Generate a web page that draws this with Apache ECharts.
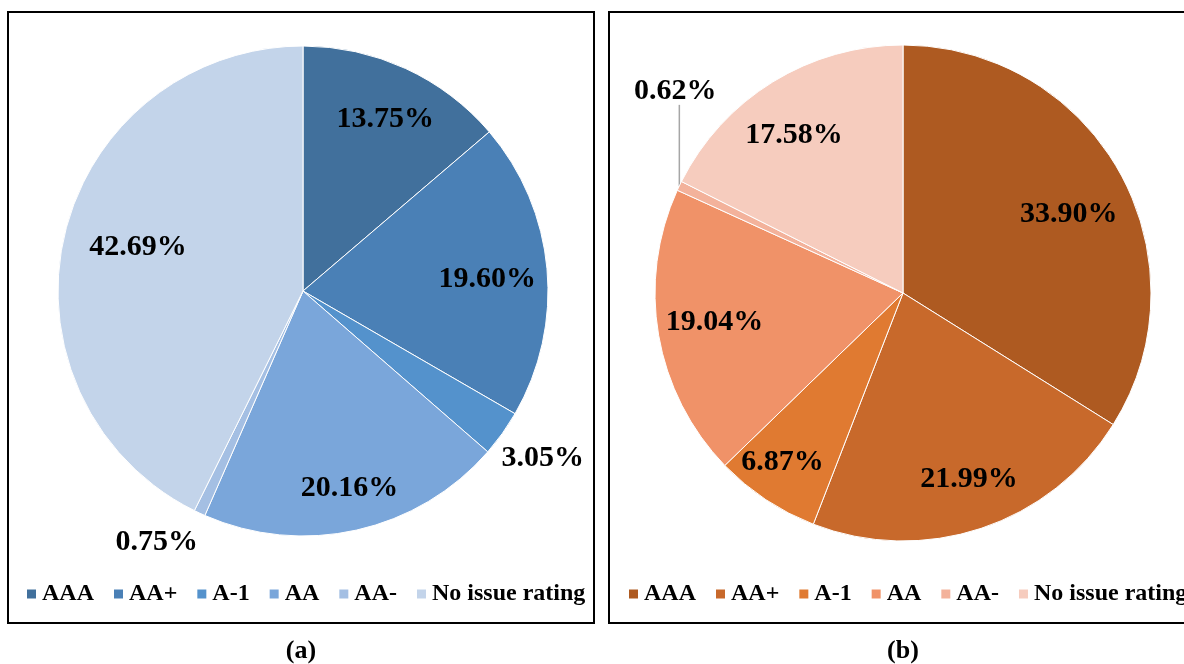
<!DOCTYPE html>
<html><head><meta charset="utf-8">
<script src="https://cdn.jsdelivr.net/npm/echarts@6/dist/echarts.min.js"></script>
<style>html,body{margin:0;padding:0;background:#fff}#c{width:1184px;height:664px}</style>
</head><body><div id="c"></div>
<script>
const categories = ['AAA', 'AA+', 'A-1', 'AA', 'AA-', 'No issue rating'];
const valuesA = [13.75, 19.60, 3.05, 20.16, 0.75, 42.69];
const valuesB = [33.90, 21.99, 6.87, 19.04, 0.62, 17.58];
const colorsA = ['#41709C', '#4A80B6', '#5492CC', '#7AA6DA', '#A4BFE3', '#C3D4EA'];
const colorsB = ['#AE5A21', '#C8692B', '#E07A31', '#F09268', '#F3B29B', '#F6CCBE'];
const outsideA = ['A-1', 'AA-'];
const leaderB = ['AA-'];

// layout-only nudges for label placement (pixels)
const labelOffsetA = [[1, 5], [-9, 6], [2, -3], [4, 8], [-23, -14], [24, 0]];
const labelOffsetB = [[-6, 16], [4, 0], [-12, 6], [5, -4], [0, 0], [-6, 9]];

const FONT = 'Liberation Serif';
const labelStyle = { fontFamily: FONT, fontWeight: 'bold', fontSize: 30, color: '#000' };
const fmt = p => p.value.toFixed(2) + '%';

function mainSeries(vals, cols, center, r, leaderNames) {
  return {
    type: 'pie', center: center, radius: r, startAngle: 90, clockwise: true,
    silent: true, animation: false, avoidLabelOverlap: false,
    itemStyle: { borderColor: '#fff', borderWidth: 1 },
    emphasis: { disabled: true },
    data: categories.map((c, i) => ({
      name: c, value: vals[i],
      itemStyle: { color: cols[i] },
      label: leaderNames.includes(c)
        ? Object.assign({ show: true, position: 'outside', formatter: fmt }, labelStyle)
        : { show: false },
      labelLine: leaderNames.includes(c)
        ? { show: true, lineStyle: { color: '#A6A6A6', width: 1.5 } }
        : { show: false }
    })),
    labelLayout: function (p) {
      if (!p.labelLinePoints) return {};
      const a = p.labelLinePoints[0];
      return {
        x: a[0] - 4, y: a[1] - 95, align: 'center', verticalAlign: 'middle',
        labelLinePoints: [[a[0], a[1]], [a[0], a[1] - 40], [a[0], a[1] - 81]]
      };
    }
  };
}

function labelSeries(vals, center, radius, showFn, offsets) {
  return {
    type: 'pie', center: center, radius: radius, startAngle: 90, clockwise: true,
    silent: true, animation: false, avoidLabelOverlap: false,
    emphasis: { disabled: true },
    itemStyle: { color: 'rgba(0,0,0,0)', borderWidth: 0 },
    labelLine: { show: false },
    data: categories.map((c, i) => ({
      name: c, value: vals[i],
      label: Object.assign({ show: showFn(c), position: 'inside', formatter: fmt, offset: offsets[i] }, labelStyle)
    }))
  };
}

const cA = [303, 291], rA = 245;
const cB = [903, 293], rB = 248;

function legend(cols, left) {
  return {
    left: left, top: 582, width: 900, padding: 0, orient: 'horizontal', icon: 'rect',
    itemWidth: 11, itemHeight: 11, itemGap: 18, selectedMode: false,
    textStyle: { fontFamily: FONT, fontWeight: 'bold', fontSize: 24, color: '#000' },
    data: categories.map((c, i) => ({ name: c, itemStyle: { color: cols[i] } }))
  };
}

const chart = echarts.init(document.getElementById('c'), null, { renderer: 'canvas' });
chart.setOption({
  backgroundColor: '#fff',
  animation: false,
  legend: [legend(colorsA, 25), legend(colorsB, 627)],
  series: [
    mainSeries(valuesA, colorsA, cA, rA, []),
    mainSeries(valuesB, colorsB, cB, rB, leaderB),
    labelSeries(valuesA, cA, [rA * 0.56, rA], c => !outsideA.includes(c), labelOffsetA),
    labelSeries(valuesA, cA, [rA * 1.08, rA * 1.28], c => outsideA.includes(c), labelOffsetA),
    labelSeries(valuesB, cB, [rB * 0.56, rB], c => !leaderB.includes(c), labelOffsetB)
  ],
  graphic: [
    { type: 'rect', shape: { x: 8, y: 12, width: 586, height: 611 }, style: { fill: 'none', stroke: '#000', lineWidth: 2 }, silent: true },
    { type: 'rect', shape: { x: 609, y: 12, width: 586, height: 611 }, style: { fill: 'none', stroke: '#000', lineWidth: 2 }, silent: true },
    { type: 'text', x: 301, y: 651, style: { text: '(a)', fontFamily: FONT, fontWeight: 'bold', fontSize: 26, fill: '#000', align: 'center', verticalAlign: 'middle' }, silent: true },
    { type: 'text', x: 903, y: 651, style: { text: '(b)', fontFamily: FONT, fontWeight: 'bold', fontSize: 26, fill: '#000', align: 'center', verticalAlign: 'middle' }, silent: true }
  ]
});
</script>
</body></html>
